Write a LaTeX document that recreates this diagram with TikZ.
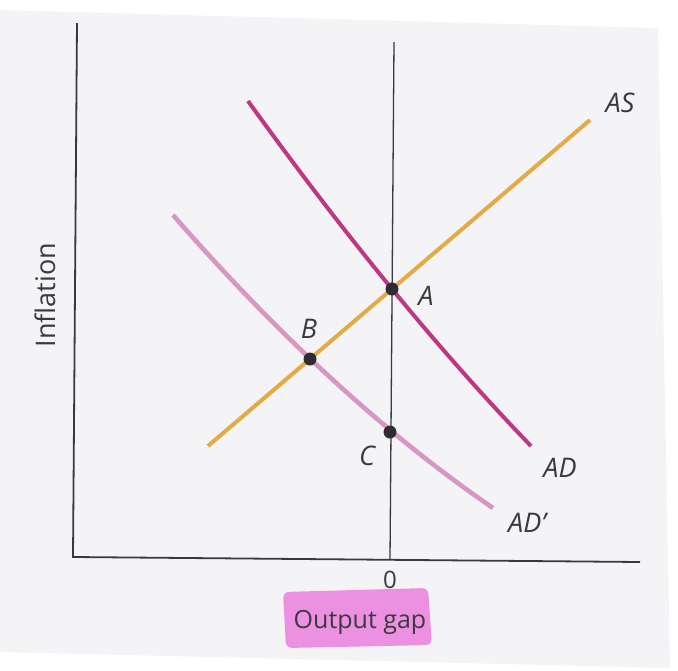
\documentclass[tikz,border=0pt]{standalone}
\usepackage{fontspec}
\setmainfont{Open Sans}
\usetikzlibrary{positioning}
\definecolor{paper}{RGB}{244, 243, 246}
\definecolor{supply}{RGB}{228, 170, 70}
\definecolor{demand}{RGB}{190, 55, 130}
\definecolor{demandnew}{RGB}{215, 150, 196}
\definecolor{marker}{RGB}{236, 145, 226}
\definecolor{ink}{RGB}{60, 56, 62}

\begin{document}
\begin{tikzpicture}[
    x=1pt, y=-1pt,
    axis/.style={draw=ink, line width=1.8pt, line join=miter},
    zeroline/.style={draw=ink, line width=1.3pt},
    curve/.style={line width=4pt, line cap=butt},
    eqpoint/.style={
        circle, fill=ink!80!black,
        inner sep=0pt, minimum size=13pt,
    },
    curvelabel/.style={font=\fontsize{27}{31}\selectfont\itshape, text=ink},
    axislabel/.style={font=\fontsize{25}{29}\selectfont, text=ink},
]

\useasboundingbox (0,0) rectangle (678,670);
\fill[paper] (0,10) -- (658,28) -- (670,668) -- (0,652) -- cycle;

% =================================================
% Axes and the zero output-gap line
% =================================================
\coordinate (ytop)    at (77,23);
\coordinate (origin)  at (73,557);
\coordinate (xend)    at (640,562);
\coordinate (zerotop) at (394,42);
\coordinate (zerobot) at (390,560);

\draw[axis]     (ytop) -- (origin) -- (xend);
\draw[zeroline] (zerotop) -- (zerobot);

% =================================================
% Curves
% =================================================
\coordinate (ASlow)   at (208,446);
\coordinate (AShigh)  at (590,120);
\coordinate (ADtop)   at (248,101);
\coordinate (ADbot)   at (531,446);
\coordinate (ADntop)  at (173,215);
\coordinate (ADnbot)  at (493,508);

\draw[curve, demandnew, line width=4.6pt]
    (ADntop) .. controls (279.7,337.3) and (386.3,435) .. (ADnbot);
\draw[curve, supply] (ASlow) -- (AShigh);
\draw[curve, demand]
    (ADtop) .. controls (345.7,236.7) and (440,351.7) .. (ADbot);

% =================================================
% Equilibrium points
% =================================================
\node[eqpoint] (A) at (392,289) {};
\node[eqpoint] (B) at (310,359) {};
\node[eqpoint] (C) at (390,432) {};

% =================================================
% Labels
% =================================================
\node[curvelabel] (Alab)   at (426,296) {A};
\node[curvelabel] (Blab)   at (309,329) {B};
\node[curvelabel] (Clab)   at (367,456) {C};
\node[curvelabel] (ASlab)  at (620,103) {AS};
\node[curvelabel] (ADlab)  at (560,468) {AD};
\node[curvelabel] (ADnlab) at (527,523) {AD’};

\node[axislabel, font=\fontsize{24}{28}\selectfont] (zero) at (390,580) {0};
\fill[marker, rounded corners=6pt]
    (283,592) -- (428,588) -- (432,645) -- (286,648) -- cycle;
\node[axislabel] (xlabel) at (360,622) {Output gap};
\node[axislabel, rotate=90, font=\fontsize{27}{31}\selectfont] (ylabel) at (45,295) {Inflation};

\end{tikzpicture}
\end{document}
